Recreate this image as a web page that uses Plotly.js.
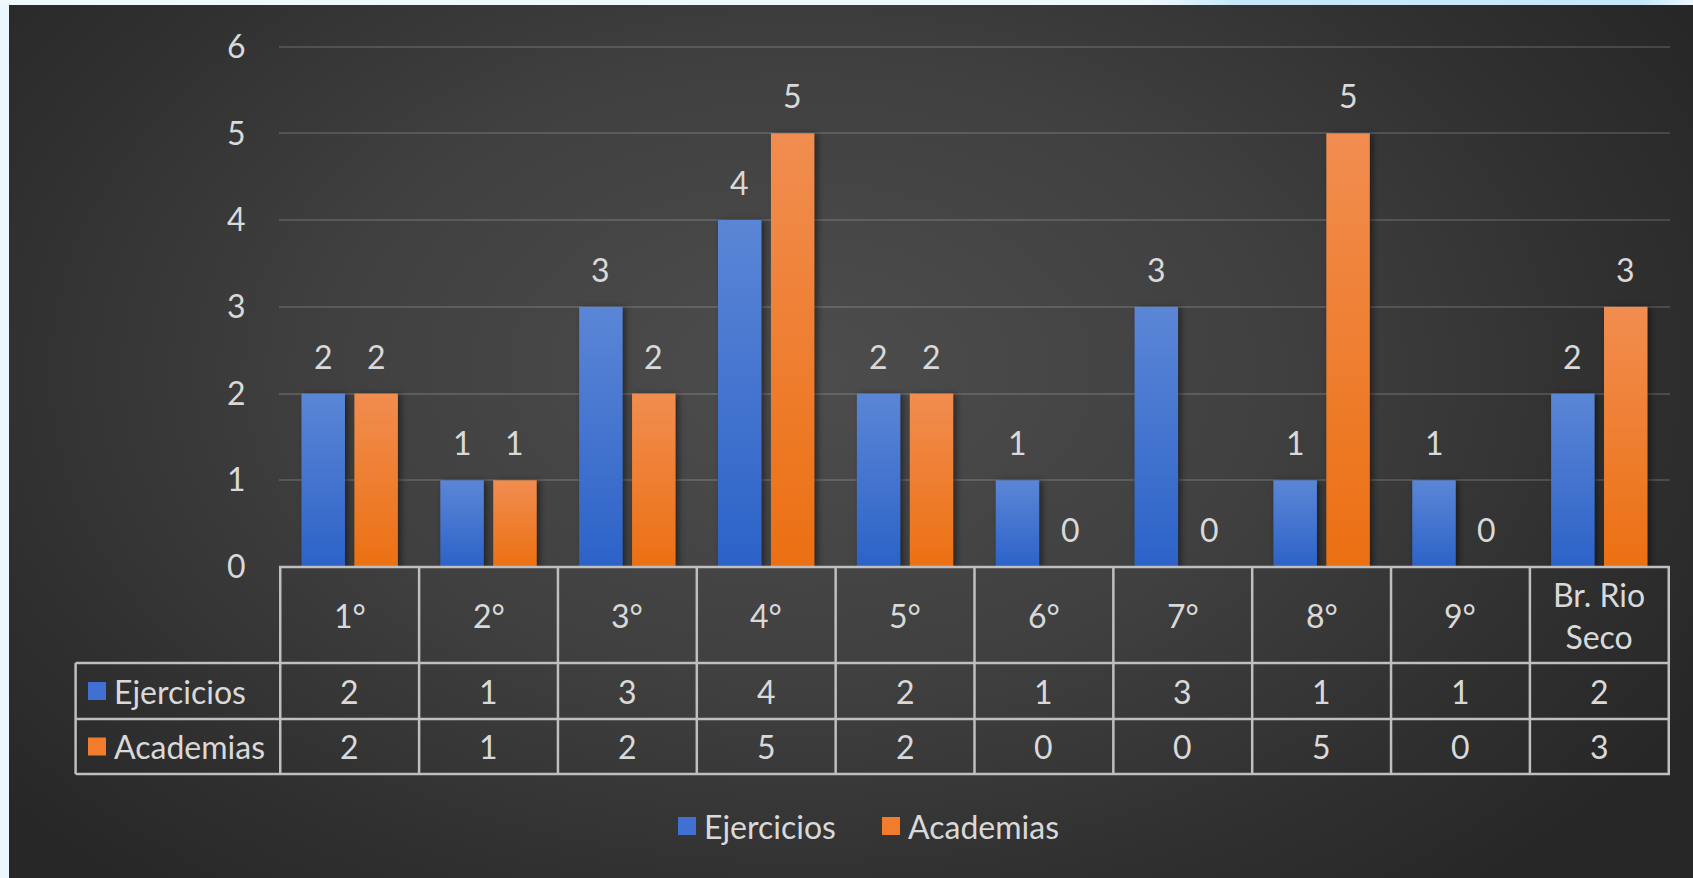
<!DOCTYPE html>
<html>
<head>
<meta charset="utf-8">
<script src="https://cdn.plot.ly/plotly-3.0.1.min.js"></script>
<style>
  html, body { margin:0; padding:0; width:1693px; height:878px; overflow:hidden; background:#ecf7fd; }
  #topband { position:absolute; left:0; top:0; width:1693px; height:6px;
    background: linear-gradient(90deg, #eef8fd 0%, #eef8fd 68%, #c6e8f9 73%, #c6e8f9 97%, #eef8fd 100%); }
  #panel { position:absolute; left:9px; top:5px; width:1684px; height:873px;
    background: radial-gradient(ellipse 62% 78% at 47% 42%, #4d4d4d 0%, #404040 45%, #2f2f2f 80%, #272727 100%); }
  #chart { position:absolute; left:0; top:0; width:1693px; height:878px; }
</style>
</head>
<body>
<div id="topband"></div>
<div id="panel"></div>
<div id="chart"></div>
<script>
// ---- data ----
const categories = ['1°', '2°', '3°', '4°', '5°', '6°', '7°', '8°', '9°', 'Br. Rio Seco'];
const headerLabels = ['1°', '2°', '3°', '4°', '5°', '6°', '7°', '8°', '9°', 'Br. Rio<br>Seco'];
const seriesNames = ['Ejercicios', 'Academias'];
const ejercicios = [2, 1, 3, 4, 2, 1, 3, 1, 1, 2];
const academias = [2, 1, 2, 5, 2, 0, 0, 5, 0, 3];
const yTicks = [0, 1, 2, 3, 4, 5, 6];

// ---- styling / geometry ----
const W = 1693, H = 878;
const M = { l: 279, r: 23, t: 44, b: 311 };
const plotBottom = H - M.b, plotTop = M.t, plotRight = W - M.r;
const py = p => (plotBottom - p) / (plotBottom - plotTop);
const px = p => (p - M.l) / (W - M.l - M.r);
const BARGAP = 0.238, BARGROUPGAP = 0.177;
const blue = '#3f70d2', orange = '#f07c2c';
const gradStops = [['#5b86d6', '#2c62c8'], ['#f18d50', '#ec7012']];
const txt = '#d9d9d9', lineCol = '#bfbfbf';
const FONT = 'Lato, "Open Sans", "DejaVu Sans", sans-serif';
const FS = 32;
const rowY = { header: [plotBottom, 663], r1: [663, 719], r2: [719, 774] };
const tableLeft = 75.6;

const traces = [
  { type: 'bar', name: seriesNames[0], x: categories, y: ejercicios,
    marker: { color: blue }, hoverinfo: 'x+y' },
  { type: 'bar', name: seriesNames[1], x: categories, y: academias,
    marker: { color: orange }, hoverinfo: 'x+y' }
];

const shapes = [];
const annotations = [];
const hline = (y, x0, x1) => shapes.push({ type: 'line', xref: 'paper', yref: 'paper',
  x0: px(x0), x1: px(x1), y0: py(y), y1: py(y), line: { color: lineCol, width: 2.5 } });
hline(plotBottom, M.l, plotRight);
hline(663, tableLeft, plotRight);
hline(719, tableLeft, plotRight);
hline(774, tableLeft, plotRight);
for (let k = 0; k <= categories.length; k++) {
  shapes.push({ type: 'line', xref: 'x', yref: 'paper', x0: k - 0.5, x1: k - 0.5,
    y0: py(plotBottom), y1: py(774), line: { color: lineCol, width: 2.5 } });
}
shapes.push({ type: 'line', xref: 'paper', yref: 'paper', x0: px(tableLeft), x1: px(tableLeft),
  y0: py(663), y1: py(774), line: { color: lineCol, width: 2.5 } });

const cy = r => py((r[0] + r[1]) / 2);
const seriesRows = [ejercicios, academias];
const rowKeys = [rowY.r1, rowY.r2];
const colors = [blue, orange];
categories.forEach((c, i) => {
  annotations.push({ xref: 'x', yref: 'paper', x: i, y: cy(rowY.header), text: headerLabels[i],
    showarrow: false, font: { size: FS, color: txt, family: FONT }, yanchor: 'middle', borderpad: 0 });
  seriesRows.forEach((s, j) => {
    annotations.push({ xref: 'x', yref: 'paper', x: i, y: cy(rowKeys[j]), text: String(s[i]),
      showarrow: false, font: { size: FS, color: txt, family: FONT }, yanchor: 'middle', borderpad: 0 });
  });
});
// data labels above bars
const off = (1 - BARGAP) / 4;
seriesRows.forEach((s, j) => {
  s.forEach((v, i) => {
    annotations.push({ xref: 'x', yref: 'y', x: i + (j === 0 ? -off : off), y: v, text: String(v),
      showarrow: false, yanchor: 'bottom', yshift: 17, borderpad: 0,
      font: { size: FS, color: txt, family: FONT } });
  });
});
// row headers with legend keys
seriesNames.forEach((n, j) => {
  const r = rowKeys[j];
  const mid = (r[0] + r[1]) / 2;
  annotations.push({ xref: 'paper', yref: 'paper', x: px(113), y: py(mid), text: n,
    xanchor: 'left', yanchor: 'middle', showarrow: false, borderpad: 0,
    font: { size: FS, color: txt, family: FONT } });
  shapes.push({ type: 'rect', xref: 'paper', yref: 'paper', x0: px(88), x1: px(106),
    y0: py(mid + 9), y1: py(mid - 9), fillcolor: colors[j], line: { width: 0 } });
});
// bottom legend (keys + names)
const legendItems = [{ sq: 678, tx: 703 }, { sq: 882, tx: 907 }];
const legendY = 826;
seriesNames.forEach((n, j) => {
  shapes.push({ type: 'rect', xref: 'paper', yref: 'paper', x0: px(legendItems[j].sq), x1: px(legendItems[j].sq + 18),
    y0: py(legendY + 9), y1: py(legendY - 9), fillcolor: colors[j], line: { width: 0 } });
  annotations.push({ xref: 'paper', yref: 'paper', x: px(legendItems[j].tx), y: py(legendY), text: n,
    xanchor: 'left', yanchor: 'middle', showarrow: false, borderpad: 0,
    font: { size: FS, color: txt, family: FONT } });
});

const layout = {
  width: W, height: H,
  margin: M,
  paper_bgcolor: 'rgba(0,0,0,0)',
  plot_bgcolor: 'rgba(0,0,0,0)',
  font: { family: FONT, size: FS, color: txt },
  barmode: 'group', bargap: BARGAP, bargroupgap: BARGROUPGAP,
  showlegend: false,
  xaxis: { type: 'category', showticklabels: false, showgrid: false, zeroline: false,
    showline: false, ticks: '', fixedrange: true },
  yaxis: { range: [0, 6.03], tickvals: yTicks, ticktext: yTicks.map(String), showgrid: true,
    gridcolor: 'rgba(255,255,255,0.14)', gridwidth: 2, zeroline: false, showline: false,
    ticks: 'outside', ticklen: 26, tickcolor: 'rgba(0,0,0,0)',
    tickfont: { size: FS, color: txt, family: FONT }, fixedrange: true },
  shapes: shapes,
  annotations: annotations
};

const gd = document.getElementById('chart');
function applyGradients() {
  const svg = gd.querySelector('svg.main-svg');
  if (!svg) return;
  const NS = 'http://www.w3.org/2000/svg';
  let defs = svg.querySelector('defs');
  if (!defs) { defs = document.createElementNS(NS, 'defs'); svg.insertBefore(defs, svg.firstChild); }
  gradStops.forEach((st, j) => {
    if (svg.querySelector('#barGrad' + j)) return;
    const g = document.createElementNS(NS, 'linearGradient');
    g.setAttribute('id', 'barGrad' + j);
    g.setAttribute('x1', '0'); g.setAttribute('y1', '0'); g.setAttribute('x2', '0'); g.setAttribute('y2', '1');
    st.forEach((c, k) => {
      const s = document.createElementNS(NS, 'stop');
      s.setAttribute('offset', k === 0 ? '0' : '1');
      s.setAttribute('stop-color', c);
      g.appendChild(s);
    });
    defs.appendChild(g);
  });
  gd.querySelectorAll('.barlayer .trace').forEach((t, j) => {
    t.querySelectorAll('path').forEach(p => {
      p.style.fill = 'url(#barGrad' + j + ')';
      p.style.filter = 'drop-shadow(3px 1px 3px rgba(0,0,0,0.45))';
    });
  });
}
Plotly.newPlot(gd, traces, layout, { displayModeBar: false, staticPlot: true }).then(applyGradients);
</script>
</body>
</html>
